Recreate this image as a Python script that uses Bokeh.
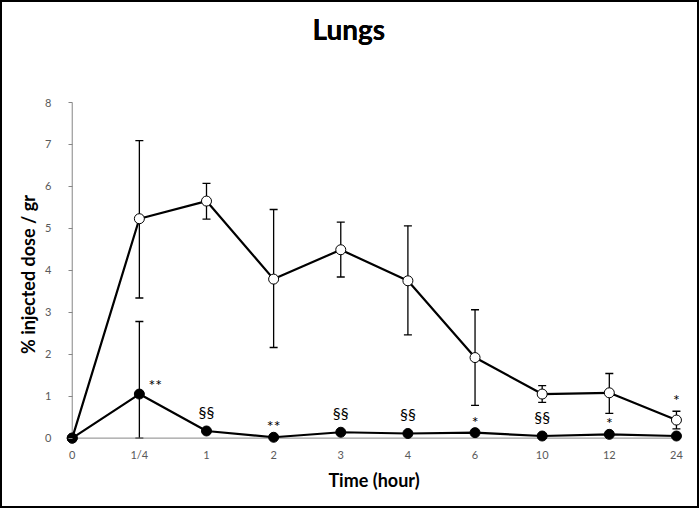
from bokeh.plotting import figure
from bokeh.models import ColumnDataSource, Whisker, TeeHead, Range1d, FixedTicker, LabelSet, Title
from bokeh.core.properties import value
from bokeh.embed import file_html
from bokeh.resources import INLINE

# ---- data ----
time_labels = ["0", "1/4", "1", "2", "3", "4", "6", "10", "12", "24"]
open_mean = [0, 5.23, 5.65, 3.79, 4.49, 3.75, 1.92, 1.05, 1.08, 0.43]
open_upper = [0, 7.09, 6.07, 5.45, 5.15, 5.06, 3.06, 1.25, 1.54, 0.64]
open_lower = [0, 3.34, 5.22, 2.16, 3.84, 2.46, 0.78, 0.85, 0.59, 0.22]
filled_mean = [0, 1.05, 0.17, 0.02, 0.14, 0.11, 0.13, 0.05, 0.09, 0.05]
filled_upper = [0, 2.78, 0.17, 0.02, 0.14, 0.11, 0.13, 0.05, 0.09, 0.05]
filled_lower = [0, 0.0, 0.17, 0.02, 0.14, 0.11, 0.13, 0.05, 0.09, 0.05]
sig_labels = ["", "**", "§§", "**", "§§", "§§", "*", "§§", "*", "*"]
y_ticks = [0, 1, 2, 3, 4, 5, 6, 7, 8]

FONT = "Lato"
xs = list(range(len(time_labels)))

W, H = 699, 508
ML, MR, MT, MB = 63, 15, 102, 62

p = figure(width=W, height=H, output_backend="svg", toolbar_location=None,
           x_range=Range1d(-0.13, 9.12), y_range=Range1d(-0.2, 8.0),
           min_border_left=ML, min_border_right=MR, min_border_top=MT, min_border_bottom=MB,
           background_fill_color="white", border_fill_color=None)
p.styles = {"box-shadow": "inset 0 0 0 2px black", "background-color": "white"}
p.outline_line_color = None
p.grid.visible = False

# title: left-aligned with an offset, lifted above the frame by a blank spacer panel
p.title.text = "Lungs"
p.title.align = "left"
p.title.offset = 249
p.title.vertical_align = "bottom"
p.title.standoff = 0
p.title.text_font = FONT
p.title.text_font_size = "28px"
p.title.text_font_style = "bold"
p.title.text_color = "black"
spacer = Title(text=" ", text_font_size="1px", standoff=18)
p.above = [spacer, p.title]

axis_color = "#868686"
tick_color = "#595959"

xa = p.xaxis[0]
xa.ticker = FixedTicker(ticks=xs)
xa.major_label_overrides = {i: t for i, t in enumerate(time_labels)}
xa.major_tick_out = 0
xa.major_tick_in = 0
xa.minor_tick_out = 0
xa.minor_tick_in = 0
xa.axis_line_color = None
xa.major_label_text_color = tick_color
xa.major_label_text_font = FONT
xa.major_label_text_font_size = "11px"
xa.major_label_standoff = 1
xa.axis_label = "Time (hour)"
xa.axis_label_text_font = FONT
xa.axis_label_text_font_size = "18px"
xa.axis_label_text_font_style = "bold"
xa.axis_label_text_color = "black"
xa.axis_label_standoff = 5

ya = p.yaxis[0]
ya.ticker = FixedTicker(ticks=y_ticks)
ya.major_tick_out = -5
ya.major_tick_in = 9
ya.minor_tick_out = 0
ya.minor_tick_in = 0
ya.major_tick_line_color = axis_color
ya.axis_line_color = None
ya.major_label_text_color = tick_color
ya.major_label_text_font = FONT
ya.major_label_text_font_size = "11px"
ya.major_label_standoff = 12
ya.axis_label = "% injected dose / gr"
ya.axis_label_text_font = FONT
ya.axis_label_text_font_size = "18px"
ya.axis_label_text_font_style = "bold"
ya.axis_label_text_color = "black"
ya.axis_label_standoff = 3

# axis lines drawn at x = first category and y = 0
p.segment(x0=[xs[0], xs[0]], y0=[y_ticks[0], y_ticks[0]],
          x1=[xs[-1], xs[0]], y1=[y_ticks[0], y_ticks[-1]],
          line_color=axis_color, line_width=1)

# error bars (only where non-zero)
oi = [i for i in xs if open_upper[i] > open_lower[i]]
src_oe = ColumnDataSource(dict(x=[xs[i] for i in oi], up=[open_upper[i] for i in oi],
                               lo=[open_lower[i] for i in oi]))
fi = [i for i in xs if filled_upper[i] > filled_lower[i]]
src_fe = ColumnDataSource(dict(x=[xs[i] for i in fi], up=[filled_upper[i] for i in fi],
                               lo=[filled_lower[i] for i in fi]))

for src in (src_oe, src_fe):
    w = Whisker(source=src, base="x", upper="up", lower="lo", dimension="height",
                line_color="black", line_width=1.3,
                upper_head=TeeHead(size=8, line_color="black", line_width=1.3),
                lower_head=TeeHead(size=8, line_color="black", line_width=1.3))
    p.add_layout(w)

src_o = ColumnDataSource(dict(x=xs, y=open_mean))
src_f = ColumnDataSource(dict(x=xs, y=filled_mean))

p.line("x", "y", source=src_o, line_color="black", line_width=2.2)
p.line("x", "y", source=src_f, line_color="black", line_width=2.2)
p.scatter("x", "y", source=src_o, size=10, marker="circle", fill_color="white",
          line_color="black", line_width=1)
p.scatter("x", "y", source=src_f, size=10, marker="circle", fill_color="black",
          line_color="black", line_width=1)

# significance labels: above the filled point, beside its error bar if it has one,
# or above the open-series error bar when that reaches down near the filled point
lab_x, lab_y, lab_t, lab_dx, lab_dy = [], [], [], [], []
for i in xs:
    t = sig_labels[i]
    if not t:
        continue
    lab_x.append(xs[i])
    lab_t.append(t)
    star = t.startswith("*")
    if open_lower[i] < 0.5 and open_upper[i] > 0:
        lab_y.append(open_upper[i]); lab_dx.append(0); lab_dy.append(5)
    elif filled_upper[i] > filled_mean[i]:
        lab_y.append(filled_mean[i]); lab_dx.append(16); lab_dy.append(3)
    else:
        lab_y.append(filled_mean[i]); lab_dx.append(0); lab_dy.append(5 if star else 13)

src_l = ColumnDataSource(dict(x=lab_x, y=lab_y, t=lab_t, dx=lab_dx, dy=lab_dy))
p.add_layout(LabelSet(x="x", y="y", text="t", source=src_l, x_offset="dx", y_offset="dy",
                      text_align="center", text_baseline="alphabetic",
                      text_font=value(FONT), text_font_size="16px", text_color="black"))

open("out.html", "w").write(file_html(p, INLINE))
